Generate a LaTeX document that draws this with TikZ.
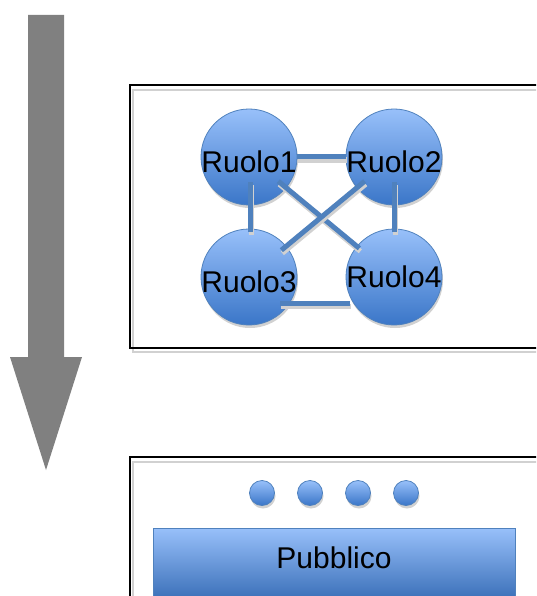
\documentclass[tikz,border=0pt]{standalone}
\usepackage{fontspec}
\setmainfont{Liberation Sans}
\usetikzlibrary{calc,backgrounds,shadows}
\definecolor{linkblue}{RGB}{79,129,189}
\definecolor{topblue}{RGB}{152,192,250}
\definecolor{bottomblue}{RGB}{58,118,200}
\definecolor{arrowgray}{RGB}{128,128,128}
\newcommand{\linkcolor}{linkblue}
\newcommand{\linkwidth}{5pt}
\newcommand{\rr}{48pt}

\begin{document}
\begin{tikzpicture}[x=1pt,y=-1pt,
  ruolo/.style={circle,draw=linkblue,line width=0.8pt,top color=topblue,bottom color=bottomblue,
    minimum size=2*\rr,inner sep=0pt,
    drop shadow={shadow xshift=1pt,shadow yshift=-3pt,fill=black!18,opacity=1}},
  rtext/.style={font=\fontsize{30}{32}\selectfont,inner sep=0pt,text height=30pt,text depth=0pt},
  dot/.style={circle,draw=linkblue,line width=0.8pt,top color=topblue,bottom color=bottomblue,
    minimum size=25pt,inner sep=0pt,
    drop shadow={shadow xshift=1pt,shadow yshift=-3pt,fill=black!18,opacity=1}},
  link/.style={draw=\linkcolor,line width=\linkwidth,
    preaction={draw=black!18,line width=\linkwidth,transform canvas={shift={(1pt,-3pt)}}}},
  frame/.style={draw=black,line width=1.4pt},
  frameshadow/.style={draw=black!18,line width=1.4pt}]
\useasboundingbox (0,0) rectangle (536,596);
\clip (0,0) rectangle (536,596);
\fill[white] (0,0) rectangle (536,596);
% freccia
\fill[arrowgray] (28,15) -- (64,15) -- (64,357) -- (82,357) -- (46,470) -- (10,357) -- (28,357) -- cycle;
% riquadri
\draw[frameshadow] (133,90) rectangle (560,352);
\draw[frame] (130,85) rectangle (560,348);
\draw[frameshadow] (133,462) rectangle (560,620);
\draw[frame] (130,457) rectangle (560,620);
% ruoli
\node[ruolo,label={[rtext]center:Ruolo1}] (r1) at (249,157) {};
\node[ruolo,label={[rtext]center:Ruolo2}] (r2) at (394,157) {};
\node[ruolo,label={[rtext]center:Ruolo3}] (r3) at (249,277) {};
\node[ruolo,label={[rtext,text height=20pt]center:Ruolo4}] (r4) at (394,277) {};
% collegamenti
\draw[link,shorten <=\rr,shorten >=\rr] (r1.center) -- (r2.center);
\draw[link,shorten <=25pt,shorten >=45pt] ([xshift=1pt]r1.center) -- ([xshift=1pt]r3.center);
\draw[link,shorten <=25pt,shorten >=45pt] (r2.center) -- (r4.center);
\draw[link,shorten <=38pt,shorten >=45pt] (r1.center) -- (r4.center);
\draw[link,shorten <=38pt,shorten >=42pt] (r2.center) -- (r3.center);
\draw[link] ([shift={(31,26)}]r3.center) -- ([shift={(-44,26)}]r4.center);
% pubblico
\foreach \i/\x in {1/262,2/310,3/358,4/406}
  \node[dot] (d\i) at (\x,493) {};
\node[draw=linkblue,line width=0.8pt,top color=topblue,bottom color=bottomblue!90!black,
  minimum width=362pt,minimum height=76pt,inner sep=0pt,
  font=\fontsize{30}{32}\selectfont,text height=22pt,text depth=18pt] (pub) at (334,566) {Pubblico};
\end{tikzpicture}
\end{document}
